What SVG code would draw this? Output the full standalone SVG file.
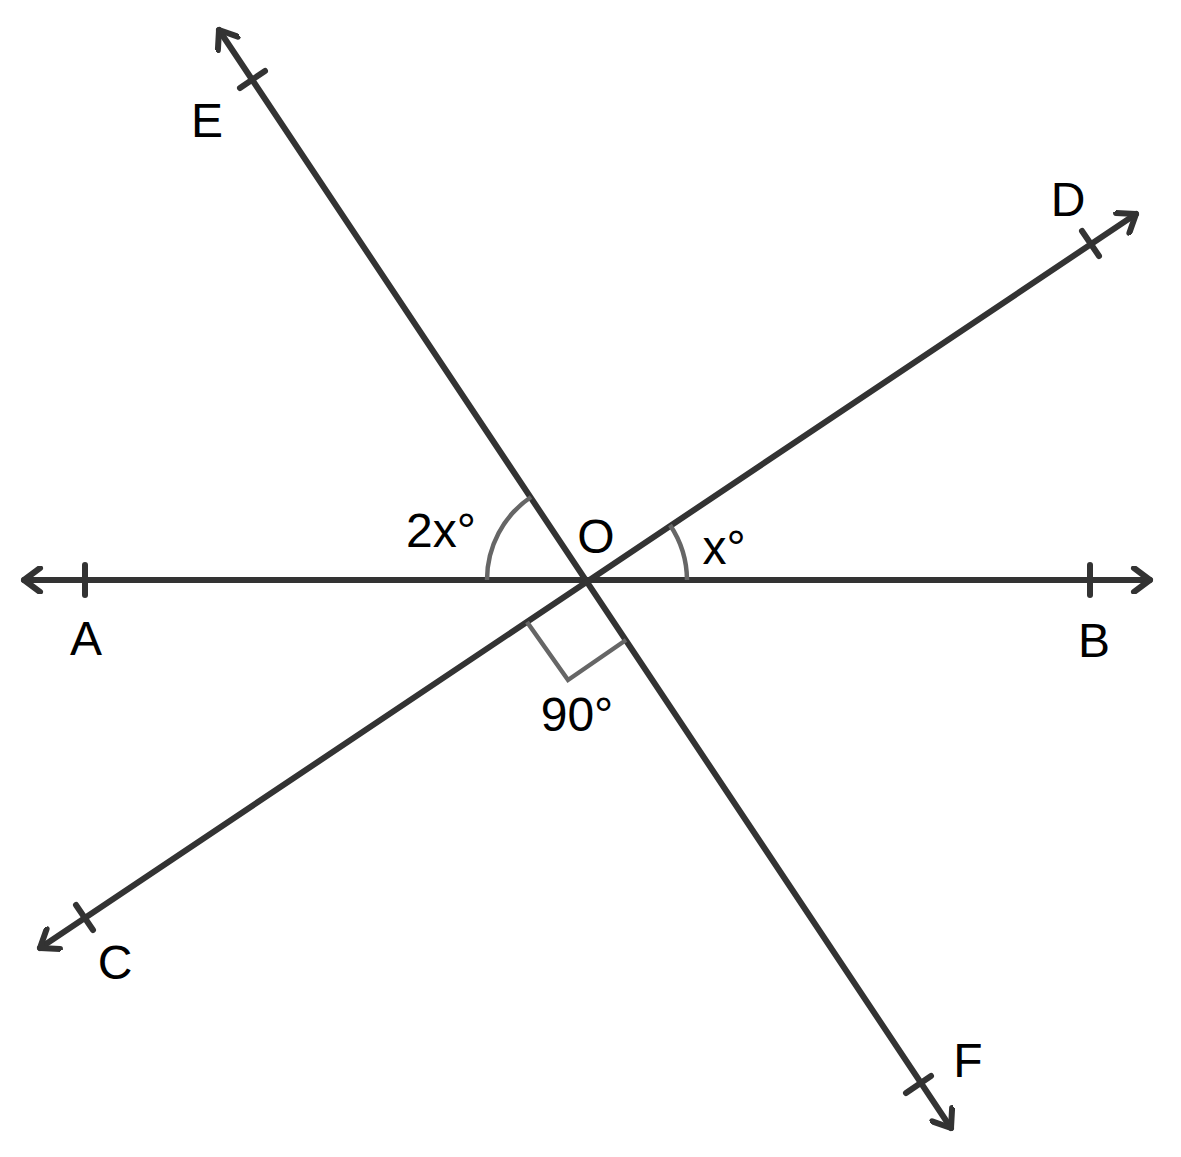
<svg xmlns="http://www.w3.org/2000/svg" width="1181" height="1157" viewBox="0 0 1181 1157">
<style>
.l{stroke:#333;stroke-width:6;fill:none;stroke-linecap:round;stroke-linejoin:round}
.g{stroke:#666;stroke-width:4.5;fill:none}
text{font-family:"Liberation Sans",Arial,sans-serif;font-size:48px;fill:#000;text-anchor:middle}
</style>
<defs>
<marker id="ar" viewBox="-20 -14 24 28" markerWidth="24" markerHeight="28" markerUnits="userSpaceOnUse" refX="0" refY="0" orient="auto-start-reverse">
<path d="M-16,-12 L0,0 L-16,12" stroke="#333" stroke-width="6" fill="none" stroke-linecap="round" stroke-linejoin="round"/>
</marker>
</defs>
<g id="connectors">
<line class="l" x1="24" y1="580" x2="1150" y2="580" marker-start="url(#ar)" marker-end="url(#ar)"/>
<line class="l" x1="219" y1="30" x2="951" y2="1128" marker-start="url(#ar)" marker-end="url(#ar)"/>
<line class="l" x1="40" y1="948" x2="1136" y2="214" marker-start="url(#ar)" marker-end="url(#ar)"/>
<line class="l" x1="85" y1="565" x2="85" y2="595"/>
<line class="l" x1="1090" y1="565" x2="1090" y2="595"/>
<line class="l" x1="240" y1="88" x2="265" y2="71"/>
<line class="l" x1="1082" y1="231" x2="1099" y2="256"/>
<line class="l" x1="76" y1="905" x2="93" y2="930"/>
<line class="l" x1="906" y1="1093" x2="931" y2="1076"/>
</g>
<g id="angles">
<path class="g" d="M487,580 A100,100 0 0 1 531,497"/>
<path class="g" d="M687,580 A100,100 0 0 0 670,525"/>
<path class="g" d="M527,622 L568,680 L626,640"/>
</g>
<g id="labels">
<text x="207" y="137">E</text>
<text x="1068" y="216">D</text>
<text x="596" y="553">O</text>
<text x="441" y="547">2x°</text>
<text x="724" y="564">x°</text>
<text x="86" y="655">A</text>
<text x="1094" y="657">B</text>
<text x="577" y="731">90°</text>
<text x="115" y="979">C</text>
<text x="968" y="1077">F</text>
</g>
</svg>
